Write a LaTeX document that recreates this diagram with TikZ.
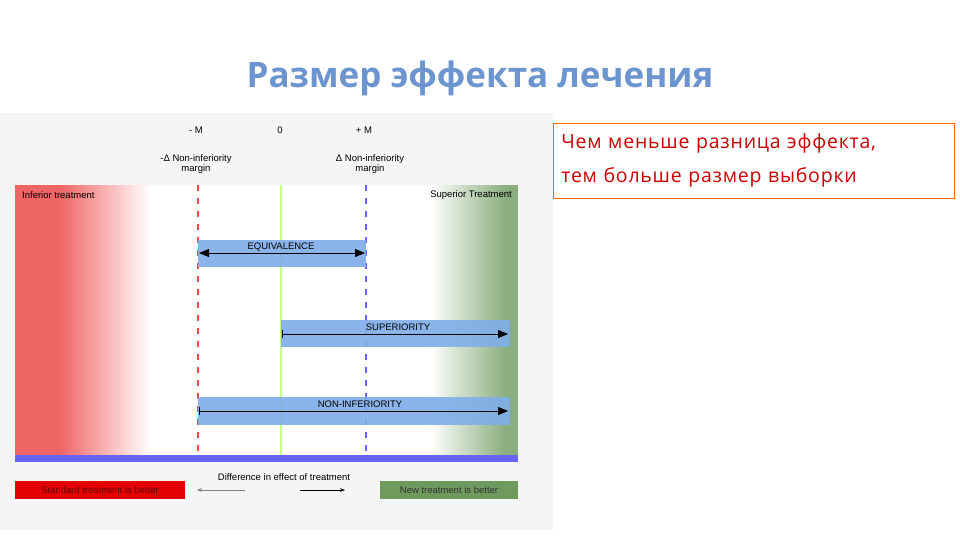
\documentclass[tikz,border=0pt]{standalone}
\usepackage{fontspec}
\setmainfont{Liberation Sans}
\newfontfamily\opensansfont{Open Sans}
\newfontfamily\opensanswide[LetterSpace=4]{Open Sans}
\usetikzlibrary{arrows.meta}
\definecolor{titleblue}{HTML}{6C95CF}
\definecolor{barblue}{HTML}{7FAEE8}
\definecolor{gr}{HTML}{6E9A5E}
\definecolor{rd}{HTML}{EE4A4A}
\tikzset{lbl/.style={font=\fontsize{9.5}{10.5}\selectfont, inner sep=0pt, align=center},
bar/.style={fill=barblue, draw=none}}
\begin{document}
\begin{tikzpicture}[x=1pt,y=-1pt]
\useasboundingbox (0,0) rectangle (960,540);
\fill[white] (0,0) rectangle (960,540);
\node[font=\opensansfont\bfseries\fontsize{35}{38}\selectfont, text=titleblue] (title) at (480,78) {Размер эффекта лечения};
\fill[black!4] (0,113) rectangle (553,530);
% bands
\fill[white] (15,185) rectangle (518,455);
\fill[rd!85] (15,185) rectangle (60,455);
\shade[left color=rd!85, right color=white] (60,185) rectangle (150,455);
\shade[left color=white, right color=gr!80] (430,185) rectangle (505,455);
\fill[gr!80] (505,185) rectangle (518,455);
\fill[blue!60!white] (15,455) rectangle (518,462);
% lines
\coordinate (rt) at (198,185); \coordinate (rb) at (198,455);
\coordinate (gt) at (281,185); \coordinate (gb) at (281,455);
\coordinate (bt) at (366,185); \coordinate (bb) at (366,455);
\draw[rd, line width=2.5pt, dash pattern=on 6pt off 7pt] (rt) -- (rb);
\draw[green!50!yellow!45!white, line width=2pt] (gt) -- (gb);
\draw[blue!60!white, line width=2.5pt, dash pattern=on 6pt off 7pt] (bt) -- (bb);
% bars
\fill[bar, opacity=0.9] (198,240) rectangle (366,267);
\fill[bar, opacity=0.9] (281,320) rectangle (510,347);
\fill[bar, opacity=0.9] (198,397) rectangle (510,425);
\node[lbl] (eq) at (281,247) {EQUIVALENCE};
\coordinate (e1) at (199,253); \coordinate (e2) at (365,253);
\draw[{Triangle[length=10pt,width=8pt]}-{Triangle[length=10pt,width=8pt]}, line width=1pt] (e1) -- (e2);
\node[lbl] (sup) at (398,327) {SUPERIORITY};
\coordinate (s1) at (282,334); \coordinate (s2) at (508,334);
\draw[{Bar[width=8pt]}-{Triangle[length=10pt,width=8pt]}, line width=0.8pt] (s1) -- (s2);
\node[lbl] (ni) at (360,404) {NON-INFERIORITY};
\coordinate (n1) at (199,411); \coordinate (n2) at (508,411);
\draw[{Bar[width=8pt]}-{Triangle[length=10pt,width=8pt]}, line width=0.8pt] (n1) -- (n2);
% labels top
\node[lbl] (mm) at (196,130) {- M};
\node[lbl] (z) at (280,130) {0};
\node[lbl] (pm) at (364,130) {+ M};
\node[lbl] (lm) at (196,164) {-Δ Non-inferiority\\margin};
\node[lbl] (rm) at (370,164) {Δ Non-inferiority\\margin};
\node[lbl, anchor=west] (inf) at (22,195) {Inferior treatment};
\node[lbl, anchor=east] (sp) at (512,195) {Superior Treatment};
% bottom
\node[lbl] (diff) at (284,477) {Difference in effect of treatment};
\node[lbl, fill=red!90!black, text=red!40!black, minimum width=170pt, minimum height=18pt] (std) at (100,490) {Standard treatment is better};
\node[lbl, fill=gr, text=black!80, minimum width=138pt, minimum height=18pt] (nw) at (449,490) {New treatment is better};
\coordinate (la) at (245,490); \coordinate (lb) at (197,490);
\coordinate (ra) at (300,490); \coordinate (rb2) at (345,490);
\draw[-{Stealth[length=5pt]}, gray, line width=0.6pt] (la) -- (lb);
\draw[-{Stealth[length=5pt]}, line width=0.6pt] (ra) -- (rb2);
% right box
\node[draw=orange!80!red, line width=0.6pt, anchor=north west, minimum width=393pt, minimum height=75pt, text width=385pt, align=left, inner xsep=8pt, inner ysep=6pt, font=\opensanswide\fontsize{19.5}{34}\selectfont, text=red!80!black] (box) at (553,123) {Чем меньше разница эффекта,\\тем больше размер выборки};
\end{tikzpicture}
\end{document}
